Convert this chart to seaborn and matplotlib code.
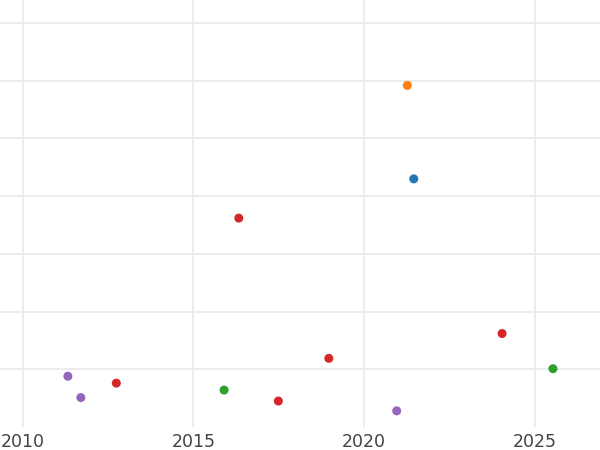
import matplotlib
matplotlib.use('Agg')

import matplotlib.pyplot as plt
import seaborn as sns
import pandas as pd

# values
years = [2021.27, 2021.46, 2016.33, 2011.32, 2011.70, 2012.74,
         2015.90, 2017.49, 2018.97, 2020.96, 2024.05, 2025.54]
values = [5.92, 4.30, 3.62, 0.88, 0.51, 0.76,
          0.64, 0.45, 1.19, 0.28, 1.62, 1.01]
groups = ["B", "A", "D", "E", "E", "D",
          "C", "D", "D", "E", "D", "C"]

group_order = ["A", "B", "C", "D", "E"]
xticks = [2010, 2015, 2020, 2025]
yticks = [1, 2, 3, 4, 5, 6, 7]

df = pd.DataFrame({"year": years, "value": values, "group": groups})

sns.set_theme(style="white")
plt.rcParams['font.family'] = ['DejaVu Sans']

fig = plt.figure(figsize=(6, 4.5), dpi=100)
ax = fig.add_axes([0, 23 / 450, 1, 427 / 450])

sns.scatterplot(data=df, x="year", y="value", hue="group", hue_order=group_order,
                palette="tab10", s=42, linewidth=0, legend=False, ax=ax, zorder=3)

ax.set_xlim(2009.33, 2026.92)
ax.set_ylim(0, 7.4)
ax.set_xticks(xticks)
ax.set_xticklabels([str(t) for t in xticks])
ax.set_yticks(yticks)
ax.set_yticklabels([])
ax.grid(True, color="#ebebeb", linewidth=1.3)
ax.set_axisbelow(True)
ax.tick_params(axis="both", length=0, labelsize=12.5, labelcolor="#444444", pad=4)
ax.set_xlabel("")
ax.set_ylabel("")
for sp in ax.spines.values():
    sp.set_visible(False)

fig.savefig("out.png", dpi=100)
